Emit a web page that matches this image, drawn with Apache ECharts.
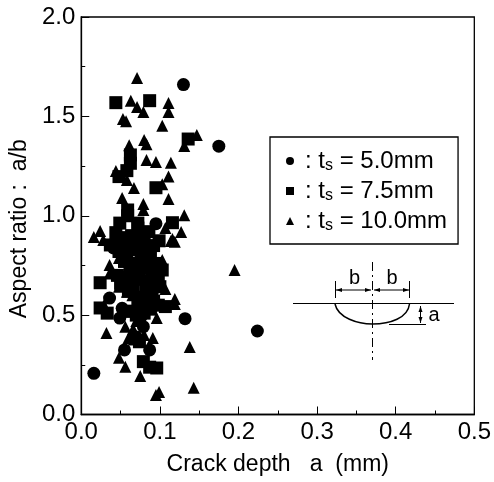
<!DOCTYPE html>
<html><head><meta charset="utf-8">
<style>html,body{margin:0;padding:0;background:#fff}#c{width:494px;height:482px}</style>
<script src="https://cdn.jsdelivr.net/npm/echarts@6/dist/echarts.min.js"></script></head>
<body><div id="c"></div>
<script>
const circles=[[0.13,1.66],[0.175,1.35],[0.224,0.42],[0.016,0.207],[0.132,0.482],[0.095,0.96],[0.036,0.586],[0.052,0.534],[0.049,0.485],[0.076,0.49],[0.079,0.442],[0.055,0.325],[0.087,0.325],[0.041,0.838],[0.065,0.72],[0.09,0.62],[0.07,0.39]];
const squares=[[0.044,1.569],[0.087,1.579],[0.136,1.386],[0.0625,1.306],[0.0625,1.264],[0.058,1.227],[0.048,1.197],[0.095,1.141],[0.059,1.029],[0.059,1.0],[0.049,0.963],[0.072,0.963],[0.072,0.938],[0.116,0.965],[0.044,0.915],[0.099,0.874],[0.037,0.853],[0.024,0.663],[0.024,0.536],[0.033,0.51],[0.079,0.266],[0.087,0.238],[0.096,0.234],[0.074,0.366],[0.068,0.38],[0.107,0.543],[0.1,0.643],[0.103,0.727],
[0.046,0.88],[0.05,0.85],[0.056,0.89],[0.062,0.86],[0.07,0.87],[0.078,0.85],[0.085,0.84],[0.048,0.82],[0.058,0.81],[0.068,0.83],[0.076,0.8],[0.088,0.79],[0.095,0.76],[0.07,0.76],[0.08,0.74],[0.062,0.73],[0.09,0.72],[0.046,0.7],[0.058,0.69],[0.074,0.68],[0.084,0.67],[0.092,0.68],[0.05,0.66],[0.066,0.64],[0.082,0.62],[0.09,0.61],[0.074,0.59],[0.082,0.56],[0.072,0.54],[0.088,0.53],[0.098,0.55],[0.08,0.51],[0.064,0.52],
[0.064,0.9],[0.08,0.89],[0.092,0.85],[0.055,0.77],[0.098,0.7],[0.06,0.62],[0.092,0.57],[0.07,0.5],[0.086,0.92]];
const triangles=[[0.071,1.693],[0.063,1.579],[0.071,1.547],[0.079,1.522],[0.111,1.567],[0.111,1.522],[0.053,1.487],[0.057,1.476],[0.103,1.453],[0.147,1.406],[0.131,1.351],[0.08,1.381],[0.083,1.36],[0.061,1.355],[0.083,1.28],[0.095,1.27],[0.114,1.267],[0.044,1.225],[0.111,1.197],[0.058,1.18],[0.103,1.159],[0.067,1.14],[0.052,1.089],[0.111,1.084],[0.079,1.059],[0.079,1.029],[0.131,1.003],[0.107,0.938],[0.127,0.918],[0.024,0.923],[0.016,0.893],[0.116,0.883],[0.028,0.878],[0.114,0.873],[0.119,0.869],[0.103,0.777],[0.036,0.752],[0.048,0.787],[0.048,0.643],[0.058,0.618],[0.107,0.631],[0.096,0.586],[0.119,0.581],[0.119,0.556],[0.029,0.551],[0.058,0.517],[0.096,0.485],[0.056,0.442],[0.032,0.41],[0.091,0.385],[0.06,0.385],[0.138,0.34],[0.048,0.286],[0.056,0.24],[0.075,0.194],[0.099,0.113],[0.095,0.098],[0.143,0.135],[0.195,0.727],[0.036,0.71],[0.065,0.6],[0.074,0.56],[0.07,0.47],[0.066,0.43],[0.08,0.4]];
const xTicks={min:0,max:0.5,interval:0.1};
const yTicks={min:0,max:2,interval:0.5};
const FONT='"Liberation Sans", Arial, sans-serif';
const L=77,R=474.5,T=17,B=414.5;
const chart=echarts.init(document.getElementById('c'),null,{renderer:'canvas'});
const rich={g:{width:6,fontSize:24},t:{fontSize:24,fontFamily:FONT,color:'#000'},s:{fontSize:16,fontFamily:FONT,color:'#000',verticalAlign:'bottom',padding:[10,0,0,0]}};
const labels={c:'{g|}{t|: t}{s|s}{t| = 5.0mm}',s:'{g|}{t|: t}{s|s}{t| = 7.5mm}',t:'{g|}{t|: t}{s|s}{t| = 10.0mm}'};
const mk=(name,sym,size,data)=>({name,type:'scatter',symbol:sym,symbolSize:size,data,itemStyle:{color:'#000',opacity:1},animation:false,clip:false});
const axisCommon={nameLocation:'middle',
  axisLine:{lineStyle:{color:'#000',width:1.3}},axisTick:{inside:true,length:8,lineStyle:{color:'#000',width:1}},
  minorTick:{show:true,splitNumber:2,length:4,lineStyle:{color:'#000',width:1}},splitLine:{show:false},
  axisLabel:{fontSize:24,color:'#000',margin:6,fontFamily:FONT,formatter:v=>v.toFixed(1),showMinLabel:true,showMaxLabel:true}};
chart.setOption({
 animation:false,backgroundColor:'#fff',
 grid:{left:L,top:T,width:R-L,height:B-T,show:true,borderColor:'#000',borderWidth:1.3,backgroundColor:'transparent'},
 textStyle:{fontFamily:FONT},
 legend:{show:true,orient:'vertical',left:270,top:137,itemWidth:8,itemHeight:8,itemGap:4,padding:[11,11,10,16],
  borderColor:'#000',borderWidth:1.3,backgroundColor:'#fff',
  data:[{name:'c',icon:'circle'},{name:'s',icon:'rect'},{name:'t',icon:'triangle'}],
  formatter:n=>labels[n],
  textStyle:{fontSize:24,fontFamily:FONT,color:'#000',rich,lineHeight:26}},
 xAxis:{type:'value',...xTicks,...axisCommon,name:'Crack depth   a  (mm)',nameGap:39,nameTextStyle:{fontSize:23,color:'#000',fontFamily:FONT}},
 yAxis:{type:'value',...yTicks,...axisCommon,name:'Aspect ratio :  a/b',nameGap:50,nameTextStyle:{fontSize:23,color:'#000',fontFamily:FONT,padding:[0,26,0,0]}},
 series:[mk('c','circle',13,circles),mk('s','rect',13,squares),mk('t','triangle',12,triangles)],
 graphic:[
  {type:'line',shape:{x1:293,y1:303.5,x2:454,y2:303.5},style:{stroke:'#000',lineWidth:1.2}},
  {type:'line',shape:{x1:372.5,y1:262,x2:372.5,y2:360},style:{stroke:'#000',lineWidth:1,lineDash:[9,4,2,4]}},
  {type:'bezierCurve',shape:{x1:335,y1:304,cpx1:338,cpy1:318,cpx2:358,cpy2:324,x2:372.5,y2:324},style:{stroke:'#000',lineWidth:1.5,fill:'none'}},
  {type:'bezierCurve',shape:{x1:372.5,y1:324,cpx1:390,cpy1:324,cpx2:408,cpy2:318,x2:409.5,y2:304},style:{stroke:'#000',lineWidth:1.5,fill:'none'}},
  {type:'line',shape:{x1:389,y1:324.5,x2:426,y2:324.5},style:{stroke:'#000',lineWidth:1}},
  {type:'line',shape:{x1:335.5,y1:281,x2:335.5,y2:298},style:{stroke:'#000',lineWidth:1}},
  {type:'line',shape:{x1:409.5,y1:281,x2:409.5,y2:298},style:{stroke:'#000',lineWidth:1}},
  {type:'line',shape:{x1:336,y1:290,x2:371,y2:290},style:{stroke:'#000',lineWidth:1}},
  {type:'line',shape:{x1:374,y1:290,x2:409,y2:290},style:{stroke:'#000',lineWidth:1}},
  {type:'line',shape:{x1:420.5,y1:306,x2:420.5,y2:323},style:{stroke:'#000',lineWidth:1}},
  {type:'polygon',shape:{points:[[336,290],[342,288],[342,292]]},style:{fill:'#000'}},
  {type:'polygon',shape:{points:[[371,290],[365,288],[365,292]]},style:{fill:'#000'}},
  {type:'polygon',shape:{points:[[374,290],[380,288],[380,292]]},style:{fill:'#000'}},
  {type:'polygon',shape:{points:[[409,290],[403,288],[403,292]]},style:{fill:'#000'}},
  {type:'polygon',shape:{points:[[420.5,306],[418.5,312],[422.5,312]]},style:{fill:'#000'}},
  {type:'polygon',shape:{points:[[420.5,323],[418.5,317],[422.5,317]]},style:{fill:'#000'}},
  {type:'text',x:354.5,y:278,style:{text:'b',font:'20px '+FONT,fill:'#000',textAlign:'center',textVerticalAlign:'middle'}},
  {type:'text',x:392,y:278,style:{text:'b',font:'20px '+FONT,fill:'#000',textAlign:'center',textVerticalAlign:'middle'}},
  {type:'text',x:434,y:315,style:{text:'a',font:'20px '+FONT,fill:'#000',textAlign:'center',textVerticalAlign:'middle'}}
 ]
});
</script></body></html>
